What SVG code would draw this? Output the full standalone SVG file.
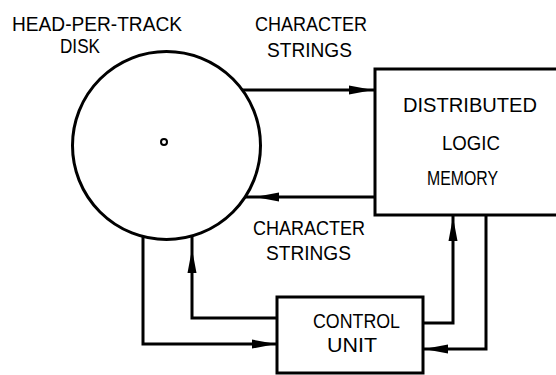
<svg xmlns="http://www.w3.org/2000/svg" xmlns:xlink="http://www.w3.org/1999/xlink" width="556" height="375" viewBox="0 0 556 375">
<style>
.ln{fill:none;stroke:#000;stroke-width:3;stroke-linejoin:miter}
.t{font-family:"Liberation Sans",Arial,sans-serif;font-size:20px;fill:#000}
</style>
<defs>
<path id="ah" d="M0,0 L-24,-4.5 L-24,4.5 Z" fill="#000"/>
</defs>
<rect width="556" height="375" fill="#fff"/>
<g id="labels">
<text class="t" x="12" y="31" textLength="170" lengthAdjust="spacingAndGlyphs">HEAD-PER-TRACK</text>
<text class="t" x="60" y="53" textLength="40" lengthAdjust="spacingAndGlyphs">DISK</text>
<text class="t" x="255" y="31" textLength="112" lengthAdjust="spacingAndGlyphs">CHARACTER</text>
<text class="t" x="267" y="57" textLength="85" lengthAdjust="spacingAndGlyphs">STRINGS</text>
<text class="t" x="253" y="235" textLength="112" lengthAdjust="spacingAndGlyphs">CHARACTER</text>
<text class="t" x="266" y="260" textLength="85" lengthAdjust="spacingAndGlyphs">STRINGS</text>
</g>
<g id="disk">
<circle class="ln" cx="166.5" cy="145.5" r="94"/>
<circle cx="164" cy="142" r="3" fill="none" stroke="#000" stroke-width="2"/>
</g>
<g id="dlm">
<rect class="ln" x="375" y="69" width="200" height="146"/>
<text class="t" x="403" y="112" textLength="134" lengthAdjust="spacingAndGlyphs">DISTRIBUTED</text>
<text class="t" x="442" y="150" textLength="58" lengthAdjust="spacingAndGlyphs">LOGIC</text>
<text class="t" x="427" y="185" textLength="71" lengthAdjust="spacingAndGlyphs">MEMORY</text>
</g>
<g id="control">
<rect class="ln" x="277" y="297" width="146" height="76"/>
<text class="t" x="313" y="328" textLength="87" lengthAdjust="spacingAndGlyphs">CONTROL</text>
<text class="t" x="327" y="352" textLength="50" lengthAdjust="spacingAndGlyphs">UNIT</text>
</g>
<g id="connectors">
<path class="ln" d="M242,90 H375"/>
<path class="ln" d="M375,197 H245"/>
<path class="ln" d="M143,236 V344 H277"/>
<path class="ln" d="M277,318 H192 V236"/>
<path class="ln" d="M423,323 H453 V215"/>
<path class="ln" d="M486,215 V349 H423"/>
<use xlink:href="#ah" transform="translate(373,90)"/>
<use xlink:href="#ah" transform="translate(255,197) rotate(180)"/>
<use xlink:href="#ah" transform="translate(276,344)"/>
<use xlink:href="#ah" transform="translate(192,249) rotate(-90)"/>
<use xlink:href="#ah" transform="translate(453,217) rotate(-90)"/>
<use xlink:href="#ah" transform="translate(424,349) rotate(180)"/>
</g>
</svg>
